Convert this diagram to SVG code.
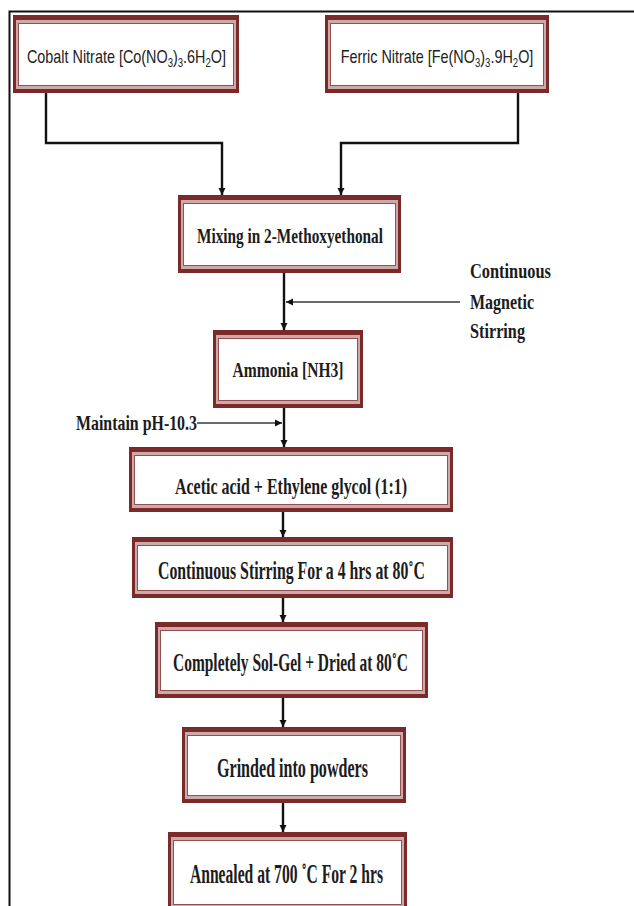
<svg xmlns="http://www.w3.org/2000/svg" width="634" height="906" viewBox="0 0 634 906">
<style>
.bo{fill:#7b2a2a}
.bm{fill:#cfa9a9}
.bi{fill:#fff;stroke:#94504f;stroke-width:1}
.sans{font-family:"Liberation Sans",Arial,sans-serif;font-size:18px;fill:#222;text-anchor:middle}
.ser{font-family:"Liberation Serif","Times New Roman",serif;font-weight:bold;fill:#1c1c1c;text-anchor:middle}
.lab{font-family:"Liberation Serif","Times New Roman",serif;font-weight:bold;fill:#1c1c1c;font-size:22px}
.sub{font-size:12px}
.cn{fill:none;stroke:#111;stroke-width:2.4}
.cg{fill:none;stroke:#6a6a6a;stroke-width:2}
.frame{fill:none;stroke:#111;stroke-width:2}
</style>
<defs>
<marker id="ah" viewBox="0 0 10 10" refX="10" refY="5" markerWidth="7" markerHeight="9" markerUnits="userSpaceOnUse" orient="auto">
<path d="M0,0 L10,5 L0,10 z" fill="#111"/>
</marker>
</defs>
<rect width="634" height="906" fill="#fff"/>
<path class="frame" d="M634,11.5 H9.5 V906"/>

<g id="connectors">
<path class="cn" d="M46,93 V143 H222 V195" marker-end="url(#ah)"/>
<path class="cn" d="M518,93 V143 H341 V195" marker-end="url(#ah)"/>
<path class="cn" d="M284,273 V330" marker-end="url(#ah)"/>
<path class="cg" d="M460,302 H286" marker-end="url(#ah)"/>
<path class="cn" d="M284,408 V447" marker-end="url(#ah)"/>
<path class="cg" d="M197,423 H282" marker-end="url(#ah)"/>
<path class="cn" d="M283,512 V537" marker-end="url(#ah)"/>
<path class="cn" d="M283,598 V622" marker-end="url(#ah)"/>
<path class="cn" d="M283,698 V727" marker-end="url(#ah)"/>
<path class="cn" d="M283,803 V832" marker-end="url(#ah)"/>
</g>

<g id="cobalt">
<rect class="bo" x="13" y="15" width="226" height="78"/>
<rect class="bm" x="16" y="20" width="220" height="69"/>
<rect class="bi" x="18.5" y="23.5" width="215" height="62"/>
<text class="sans" transform="translate(126.5,63) scale(0.8,1)" x="0" y="0">Cobalt Nitrate [Co(NO<tspan class="sub" dy="4">3</tspan><tspan dy="-4">)</tspan><tspan class="sub" dy="4">3</tspan><tspan dy="-4">.6H</tspan><tspan class="sub" dy="4">2</tspan><tspan dy="-4">O]</tspan></text>
</g>

<g id="ferric">
<rect class="bo" x="325" y="15" width="224" height="78"/>
<rect class="bm" x="328" y="20" width="218" height="69"/>
<rect class="bi" x="330.5" y="23.5" width="213" height="62"/>
<text class="sans" transform="translate(437,63) scale(0.8,1)" x="0" y="0">Ferric Nitrate [Fe(NO<tspan class="sub" dy="4">3</tspan><tspan dy="-4">)</tspan><tspan class="sub" dy="4">3</tspan><tspan dy="-4">.9H</tspan><tspan class="sub" dy="4">2</tspan><tspan dy="-4">O]</tspan></text>
</g>

<g id="mixing">
<rect class="bo" x="178" y="195" width="223" height="78"/>
<rect class="bm" x="181" y="200" width="217" height="69"/>
<rect class="bi" x="183.5" y="203.5" width="212" height="62"/>
<text class="ser" x="290" y="243" font-size="21" textLength="186" lengthAdjust="spacingAndGlyphs">Mixing in 2-Methoxyethonal</text>
</g>

<g id="stirring-label">
<text class="lab" x="470" y="278" textLength="81" lengthAdjust="spacingAndGlyphs">Continuous</text>
<text class="lab" x="470" y="309" textLength="64" lengthAdjust="spacingAndGlyphs">Magnetic</text>
<text class="lab" x="470" y="338" textLength="55" lengthAdjust="spacingAndGlyphs">Stirring</text>
</g>

<g id="ammonia">
<rect class="bo" x="213" y="330" width="150" height="78"/>
<rect class="bm" x="216" y="335" width="144" height="69"/>
<rect class="bi" x="218.5" y="338.5" width="139" height="62"/>
<text class="ser" x="288" y="377" font-size="22" textLength="111" lengthAdjust="spacingAndGlyphs">Ammonia [NH3]</text>
</g>

<g id="ph-label">
<text class="lab" x="76" y="430" textLength="121" lengthAdjust="spacingAndGlyphs">Maintain pH-10.3</text>
</g>

<g id="acetic">
<rect class="bo" x="129" y="447" width="324" height="65"/>
<rect class="bm" x="132" y="452" width="318" height="56"/>
<rect class="bi" x="134.5" y="455.5" width="313" height="49"/>
<text class="ser" x="291" y="494" font-size="24" textLength="232" lengthAdjust="spacingAndGlyphs">Acetic acid + Ethylene glycol (1:1)</text>
</g>

<g id="continuous">
<rect class="bo" x="132" y="537" width="321" height="61"/>
<rect class="bm" x="135" y="542" width="315" height="52"/>
<rect class="bi" x="137.5" y="545.5" width="310" height="45"/>
<text class="ser" x="291.5" y="579" font-size="26" textLength="267" lengthAdjust="spacingAndGlyphs">Continuous Stirring For a 4 hrs at  80˚C</text>
</g>

<g id="solgel">
<rect class="bo" x="155" y="622" width="273" height="76"/>
<rect class="bm" x="158" y="627" width="267" height="67"/>
<rect class="bi" x="160.5" y="630.5" width="262" height="60"/>
<text class="ser" x="290.5" y="671" font-size="25" textLength="235" lengthAdjust="spacingAndGlyphs">Completely Sol-Gel + Dried at 80˚C</text>
</g>

<g id="grinded">
<rect class="bo" x="182" y="727" width="224" height="76"/>
<rect class="bm" x="185" y="732" width="218" height="67"/>
<rect class="bi" x="187.5" y="735.5" width="213" height="60"/>
<text class="ser" x="292.5" y="777" font-size="27" textLength="151" lengthAdjust="spacingAndGlyphs">Grinded into powders</text>
</g>

<g id="annealed">
<rect class="bo" x="168" y="832" width="239" height="80"/>
<rect class="bm" x="171" y="837" width="233" height="71"/>
<rect class="bi" x="173.5" y="840.5" width="228" height="64"/>
<text class="ser" x="286.5" y="883" font-size="27" textLength="193" lengthAdjust="spacingAndGlyphs">Annealed at 700 ˚C For 2 hrs</text>
</g>
</svg>
